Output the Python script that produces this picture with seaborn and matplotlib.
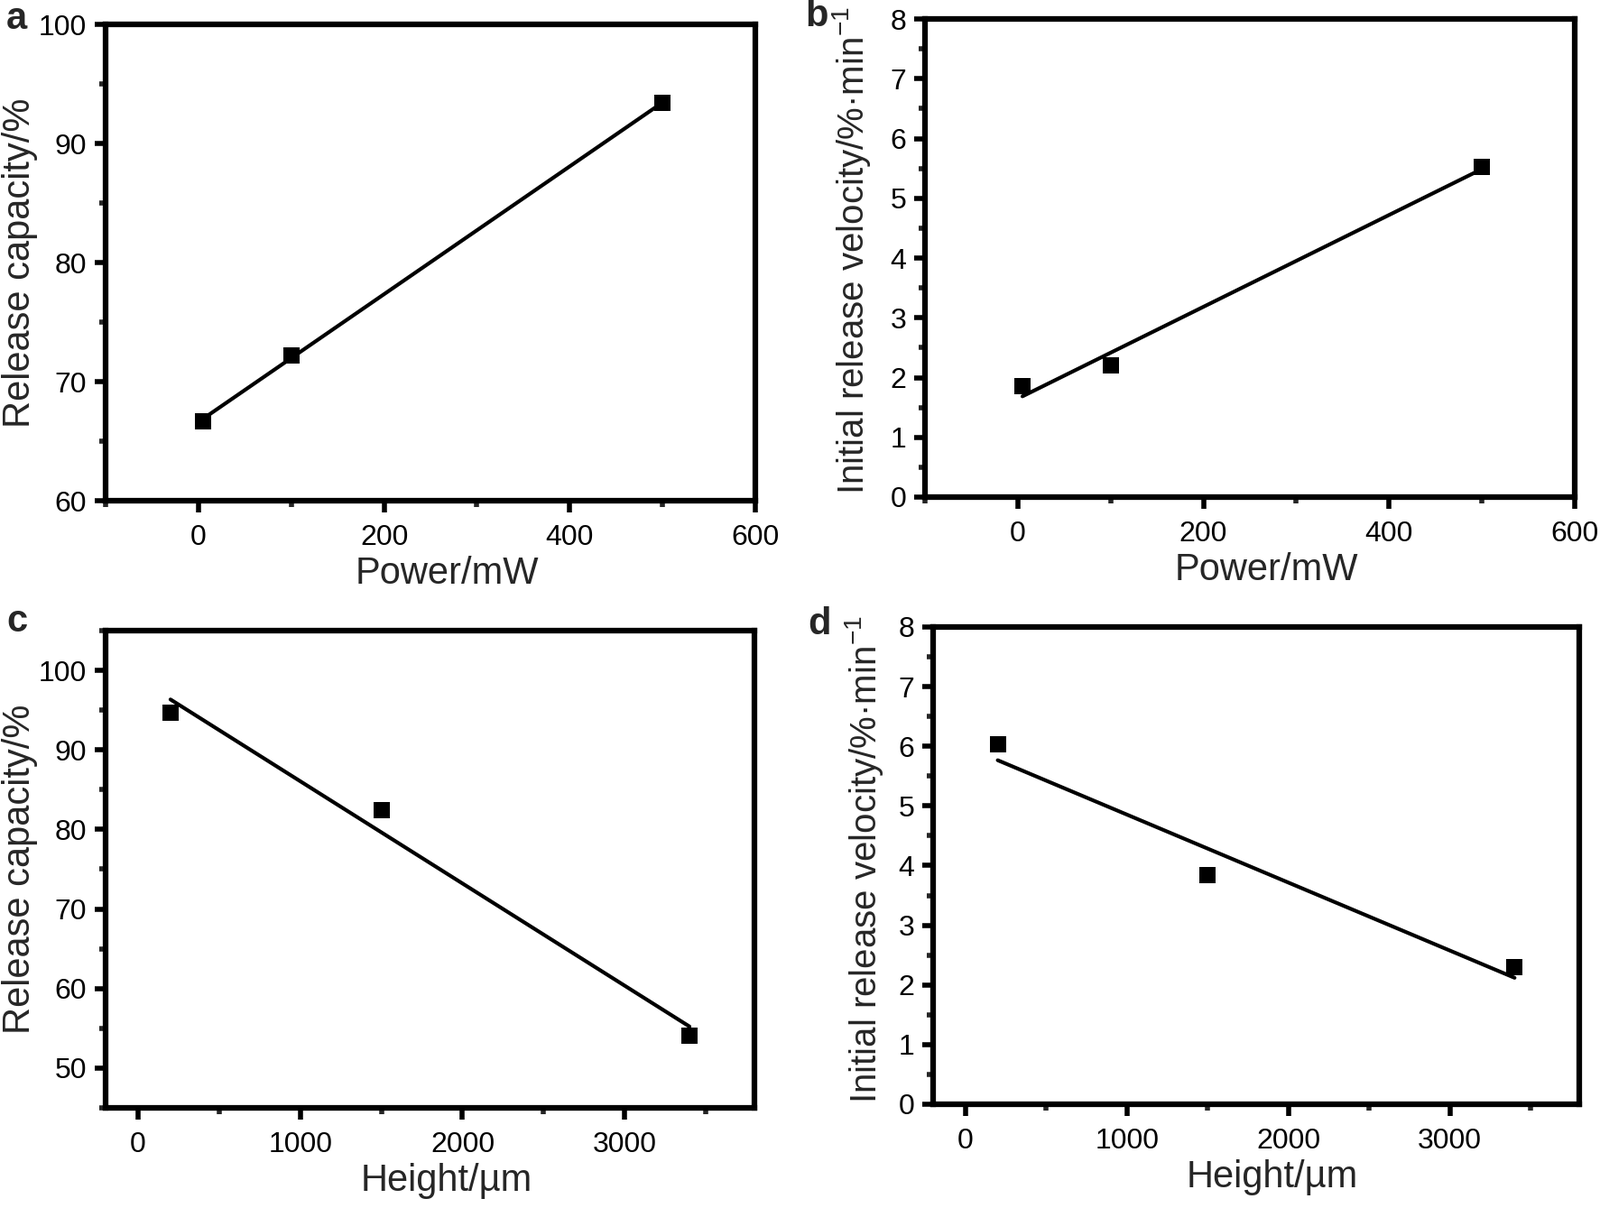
import matplotlib
matplotlib.use("Agg")
import matplotlib.pyplot as plt
from matplotlib.ticker import MultipleLocator
import seaborn as sns

# Values
power = [5, 100, 500]
capacity_vs_power = [66.7, 72.2, 93.4]
velocity_vs_power = [1.86, 2.2, 5.53]

height = [200, 1500, 3400]
capacity_vs_height = [94.7, 82.4, 54.1]
velocity_vs_height = [6.03, 3.84, 2.3]

sns.set_theme(style="ticks")
plt.rcParams['font.family'] = ['Liberation Sans', 'DejaVu Sans']
plt.rcParams['mathtext.fontset'] = 'custom'
plt.rcParams['mathtext.rm'] = 'Liberation Sans'
plt.rcParams['mathtext.it'] = 'Liberation Sans'

fig = plt.figure(figsize=(17.73, 13.39), dpi=100)

# axes boxes [left, bottom, width, height] in figure fraction
boxes = {
    "a": [0.066, 0.5855, 0.4061, 0.3943],
    "b": [0.5781, 0.5885, 0.4061, 0.3958],
    "c": [0.066, 0.0829, 0.4055, 0.3951],
    "d": [0.5832, 0.0859, 0.4038, 0.3951],
}

vel_label = r"Initial release velocity/%·min$^{\mathrm{-1}}$"
panels = [
    ("a", power, capacity_vs_power, "Power/mW", "Release capacity/%",
     (-100, 600), 200, 100, (60, 100), 10, 5),
    ("b", power, velocity_vs_power, "Power/mW", vel_label,
     (-100, 600), 200, 100, (0, 8), 1, 0.5),
    ("c", height, capacity_vs_height, "Height/µm", "Release capacity/%",
     (-200, 3800), 1000, 500, (45, 105), 10, 5),
    ("d", height, velocity_vs_height, "Height/µm", vel_label,
     (-200, 3800), 1000, 500, (0, 8), 1, 0.5),
]

# label placement (axes fraction) and panel letter baseline (figure fraction)
ylabel_xy = {"a": (-0.104, 0.5), "b": (-0.080, 0.515),
             "c": (-0.104, 0.5), "d": (-0.074, 0.513)}
ylabel_size = {"a": 30, "b": 29, "c": 30, "d": 29}
letter_pos = {"a": (0.004, 0.976), "b": (0.503, 0.978),
              "c": (0.004, 0.4772), "d": (0.505, 0.475)}

for key, x, y, xlab, ylab, xlim, xmaj, xmin, ylim, ymaj, ymin in panels:
    ax = fig.add_axes(boxes[key])
    sns.regplot(x=x, y=y, ax=ax, ci=None, marker="s",
                scatter_kws=dict(s=180, color="black", alpha=1, zorder=3,
                                 linewidths=0),
                line_kws=dict(color="black", lw=3))
    ax.set_xlim(*xlim)
    ax.set_ylim(*ylim)
    ax.xaxis.set_major_locator(MultipleLocator(xmaj))
    ax.xaxis.set_minor_locator(MultipleLocator(xmin))
    ax.yaxis.set_major_locator(MultipleLocator(ymaj))
    ax.yaxis.set_minor_locator(MultipleLocator(ymin))
    if key == "c":
        ax.set_yticks([50, 60, 70, 80, 90, 100])
        ax.set_ylim(*ylim)
    for sp in ax.spines.values():
        sp.set_visible(True)
        sp.set_linewidth(4.5)
        sp.set_color("black")
    ax.tick_params(which="major", direction="out", length=9, width=4,
                   labelsize=23, colors="black")
    ax.tick_params(axis="y", which="major", pad=6)
    ax.tick_params(axis="x", which="major", pad=10)
    ax.tick_params(which="minor", direction="out", length=5, width=4)
    ax.tick_params(top=False, right=False, which="both")
    ax.set_xlabel(xlab, fontsize=30)
    ax.set_ylabel(ylab, fontsize=ylabel_size[key])
    ax.xaxis.set_label_coords(0.525, -0.115)
    ax.yaxis.set_label_coords(*ylabel_xy[key])
    ax.set_facecolor("white")
    lx, ly = letter_pos[key]
    fig.text(lx, ly, key, fontsize=30, fontweight="bold", va="baseline",
             ha="left")

fig.savefig("out.png", dpi=100, facecolor="white")
